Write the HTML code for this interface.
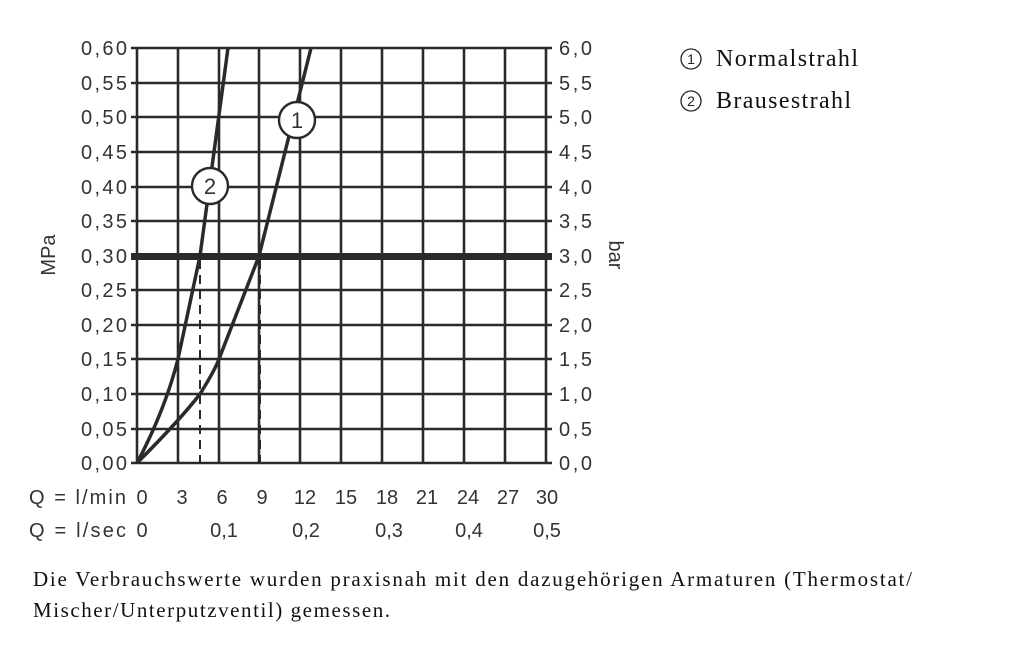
<!DOCTYPE html>
<html><head><meta charset="utf-8"><style>
body{margin:0;background:#fff;}
svg{display:block}
</style></head><body>
<svg width="1024" height="652" viewBox="0 0 1024 652" xmlns="http://www.w3.org/2000/svg">
<g stroke="#2a2a2a" stroke-width="2.6" fill="none">
<line x1="137" y1="48" x2="137" y2="463"/><line x1="178" y1="48" x2="178" y2="463"/><line x1="219" y1="48" x2="219" y2="463"/><line x1="259" y1="48" x2="259" y2="463"/><line x1="300" y1="48" x2="300" y2="463"/><line x1="341" y1="48" x2="341" y2="463"/><line x1="382" y1="48" x2="382" y2="463"/><line x1="423" y1="48" x2="423" y2="463"/><line x1="464" y1="48" x2="464" y2="463"/><line x1="505" y1="48" x2="505" y2="463"/><line x1="546" y1="48" x2="546" y2="463"/>
<line x1="131" y1="48" x2="552" y2="48"/><line x1="131" y1="83" x2="552" y2="83"/><line x1="131" y1="117" x2="552" y2="117"/><line x1="131" y1="152" x2="552" y2="152"/><line x1="131" y1="187" x2="552" y2="187"/><line x1="131" y1="221" x2="552" y2="221"/><line x1="131" y1="290" x2="552" y2="290"/><line x1="131" y1="325" x2="552" y2="325"/><line x1="131" y1="359" x2="552" y2="359"/><line x1="131" y1="394" x2="552" y2="394"/><line x1="131" y1="429" x2="552" y2="429"/><line x1="131" y1="463" x2="552" y2="463"/>
<line x1="131" y1="256.5" x2="552" y2="256.5" stroke-width="7"/>
<line x1="200" y1="260" x2="200" y2="463" stroke-dasharray="9,6" stroke-width="2"/>
<line x1="260" y1="260" x2="260" y2="463" stroke-dasharray="9,6" stroke-width="2"/>
<path d="M137 463 Q165 410 178 359 L200 256 L228 48" stroke-width="3.5"/>
<path d="M137 463 Q180 420 200 394 Q215 370 219 359 L259 256 L293 120 L311 48" stroke-width="3.5"/>
</g>
<g fill="#fff" stroke="#2a2a2a" stroke-width="2.4"><circle cx="297" cy="120" r="18"/><circle cx="210" cy="186" r="18"/></g>
<g font-family="Liberation Sans, sans-serif" font-size="22" fill="#333" text-anchor="middle">
<text x="297" y="128">1</text><text x="210" y="194">2</text></g>
<g font-family="Liberation Sans, sans-serif" font-size="20" fill="#333" text-anchor="end">
<text x="127" y="55" textLength="46">0,60</text><text x="127" y="90" textLength="46">0,55</text><text x="127" y="124" textLength="46">0,50</text><text x="127" y="159" textLength="46">0,45</text><text x="127" y="194" textLength="46">0,40</text><text x="127" y="228" textLength="46">0,35</text><text x="127" y="263" textLength="46">0,30</text><text x="127" y="297" textLength="46">0,25</text><text x="127" y="332" textLength="46">0,20</text><text x="127" y="366" textLength="46">0,15</text><text x="127" y="401" textLength="46">0,10</text><text x="127" y="436" textLength="46">0,05</text><text x="127" y="470" textLength="46">0,00</text>
</g>
<g font-family="Liberation Sans, sans-serif" font-size="20" fill="#333">
<text x="559" y="55" textLength="33">6,0</text><text x="559" y="90" textLength="33">5,5</text><text x="559" y="124" textLength="33">5,0</text><text x="559" y="159" textLength="33">4,5</text><text x="559" y="194" textLength="33">4,0</text><text x="559" y="228" textLength="33">3,5</text><text x="559" y="263" textLength="33">3,0</text><text x="559" y="297" textLength="33">2,5</text><text x="559" y="332" textLength="33">2,0</text><text x="559" y="366" textLength="33">1,5</text><text x="559" y="401" textLength="33">1,0</text><text x="559" y="436" textLength="33">0,5</text><text x="559" y="470" textLength="33">0,0</text>
<text x="29" y="504" textLength="97">Q = l/min</text><text x="29" y="537" textLength="97">Q = l/sec</text>
<text transform="translate(55,255) rotate(-90)" text-anchor="middle">MPa</text>
<text transform="translate(609,255) rotate(90)" text-anchor="middle">bar</text>
</g>
<g font-family="Liberation Sans, sans-serif" font-size="20" fill="#333" text-anchor="middle">
<text x="142" y="504">0</text><text x="182" y="504">3</text><text x="222" y="504">6</text><text x="262" y="504">9</text><text x="305" y="504">12</text><text x="346" y="504">15</text><text x="387" y="504">18</text><text x="427" y="504">21</text><text x="468" y="504">24</text><text x="508" y="504">27</text><text x="547" y="504">30</text>
<text x="142" y="537">0</text><text x="224" y="537">0,1</text><text x="306" y="537">0,2</text><text x="389" y="537">0,3</text><text x="469" y="537">0,4</text><text x="547" y="537">0,5</text>
</g>
<g fill="none" stroke="#222" stroke-width="1.3"><circle cx="691" cy="59" r="10"/><circle cx="691" cy="101" r="10"/></g>
<g font-family="Liberation Sans, sans-serif" font-size="14" fill="#222" text-anchor="middle"><text x="691" y="64">1</text><text x="691" y="106">2</text></g>
<g font-family="Liberation Serif, serif" font-size="24" fill="#111">
<text x="716" y="66" textLength="142">Normalstrahl</text><text x="716" y="108" textLength="135">Brausestrahl</text>
</g>
<g font-family="Liberation Serif, serif" font-size="21" fill="#111">
<text x="33" y="586" textLength="879">Die Verbrauchswerte wurden praxisnah mit den dazugehörigen Armaturen (Thermostat/</text>
<text x="33" y="617" textLength="357">Mischer/Unterputzventil) gemessen.</text>
</g>
</svg>
</body></html>
